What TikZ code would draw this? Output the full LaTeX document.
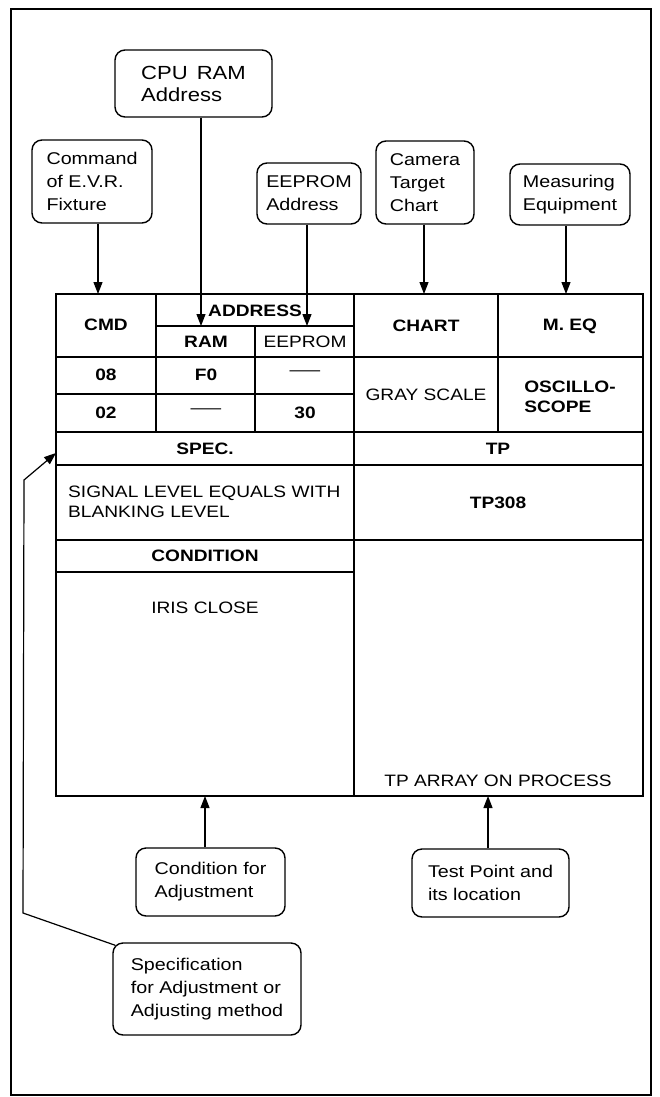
\documentclass[tikz,border=0pt]{standalone}
\usepackage{fontspec}
\setmainfont{Liberation Sans}[FakeStretch=1.16]
\usepackage{graphicx}
\usetikzlibrary{arrows.meta,calc}

\newcommand{\lblfont}{\fontsize{17}{23}\selectfont}
\newcommand{\bigfont}{\fontsize{19}{22}\selectfont}
\newcommand{\tabfont}{\fontsize{16.5}{20}\selectfont}
\newcommand{\longdash}{\scalebox{1.6}[1]{—}}

\tikzset{
    lbl/.style={draw, rounded corners=10pt, line width=1.4pt, align=left, font=\lblfont, inner sep=0pt},
    cell/.style={font=\tabfont, inner sep=0pt, align=center},
    hd/.style={cell, font=\tabfont\bfseries},
    arr/.style={-{Triangle[length=12pt,width=9pt]}, line width=1.2pt},
    rule/.style={line width=1.4pt}
}

\begin{document}
\begin{tikzpicture}[x=1pt, y=-1pt]
        \useasboundingbox (0,0) rectangle (660,1097);
        \draw[line width=2.2pt] (11,9) rectangle (651,1095);

        % boxes around the sheet
        \node[lbl, font=\bigfont, minimum width=157pt, minimum height=67pt] (cpu) at (193.5,83.5) {CPU\hspace{9pt}RAM\\Address};
        \node[lbl, minimum width=120pt, minimum height=83pt] (cmd) at (92,181.5) {Command\\of E.V.R.\\Fixture};
        \node[lbl, minimum width=104pt, minimum height=61pt] (eep) at (309,193.5) {EEPROM\\Address};
        \node[lbl, minimum width=98pt, minimum height=83pt] (cam) at (425,182.5) {Camera\\Target\\Chart};
        \node[lbl, minimum width=120pt, minimum height=61pt] (meq) at (570,194.5) {Measuring\\Equipment};
        \node[lbl, minimum width=149pt, minimum height=68pt] (cond) at (210.5,882) {Condition for\\Adjustment};
        \node[lbl, minimum width=157pt, minimum height=68pt] (tpt) at (490.5,883) {Test Point and\\its location};
        \node[lbl, minimum width=188pt, minimum height=92pt] (spec) at (207,989) {Specification\\for Adjustment or\\Adjusting method};

        % the sheet
        \coordinate (tabnw) at (56,294);
        \coordinate (tabse) at (643,796);
        \coordinate (addrb) at (156,326);
        \draw[rule] (tabnw) rectangle (tabse);
        \draw[rule] (156,326) -- (354,326);
        \draw[rule] (56,357) -- (643,357);
        \draw[rule] (56,394) -- (354,394);
        \foreach \y in {432,465,540}
            \draw[rule] (56,\y) -- (643,\y);
        \draw[rule] (56,572) -- (354,572);
        \draw[rule] (354,294) -- (354,796);
        \draw[rule] (156,294) -- (156,432);
        \draw[rule] (255,326) -- (255,432);
        \draw[rule] (498,294) -- (498,432);

        \node[hd] (cmdh) at (106,325) {CMD};
        \node[hd] (addrh) at (255,311) {ADDRESS};
        \node[hd] (ramh) at (206,342) {RAM};
        \node[cell] (eeph) at (305,342) {EEPROM};
        \node[hd] (charth) at (426,326) {CHART};
        \node[hd] (meqh) at (570,326) {M. EQ};
        \node[hd] (cmda) at (106,375) {08};
        \node[hd] (rama) at (206,375) {F0};
        \node[cell] (eepa) at (305,373) {\longdash};
        \node[hd] (cmdb) at (106,413) {02};
        \node[cell] (ramb) at (206,411) {\longdash};
        \node[hd] (eepb) at (305,413) {30};
        \node[cell] (chartv) at (426,395) {GRAY SCALE};
        \node[hd, align=left] (meqv) at (570,397) {OSCILLO-\\SCOPE};
        \node[hd] (spech) at (205,449) {SPEC.};
        \node[hd] (tph) at (498,449) {TP};
        \node[cell, align=left, anchor=west] (specv) at (68,502) {SIGNAL LEVEL EQUALS WITH\\BLANKING LEVEL};
        \node[hd] (tpv) at (498,503) {TP308};
        \node[hd] (condh) at (205,556) {CONDITION};
        \node[cell] (condv) at (205,608) {IRIS CLOSE};
        \node[cell] (tparr) at (498,781) {TP ARRAY ON PROCESS};

        % connectors
        \draw[arr] ([xshift=6pt]cmd.south) -- ([xshift=6pt]cmd.south |- tabnw);
        \draw[arr] ([xshift=7.5pt]cpu.south) -- ([xshift=7.5pt]cpu.south |- addrb);
        \draw[arr] ([xshift=-2pt]eep.south) -- ([xshift=-2pt]eep.south |- addrb);
        \draw[arr] ([xshift=-1pt]cam.south) -- ([xshift=-1pt]cam.south |- tabnw);
        \draw[arr] ([xshift=-4pt]meq.south) -- ([xshift=-4pt]meq.south |- tabnw);
        \draw[arr] ([xshift=-5.5pt]cond.north) -- ([xshift=-5.5pt]cond.north |- tabse);
        \draw[arr] ([xshift=-2.5pt]tpt.north) -- ([xshift=-2.5pt]tpt.north |- tabse);

        \coordinate (bendlow) at (23,913);
        \coordinate (bendup) at (24,480);
        \coordinate (specin) at (56,453);
        \draw[arr] ($(spec.north west)+(3,3)$) -- (bendlow) -- (bendup) -- (specin);
    \end{tikzpicture}
\end{document}
